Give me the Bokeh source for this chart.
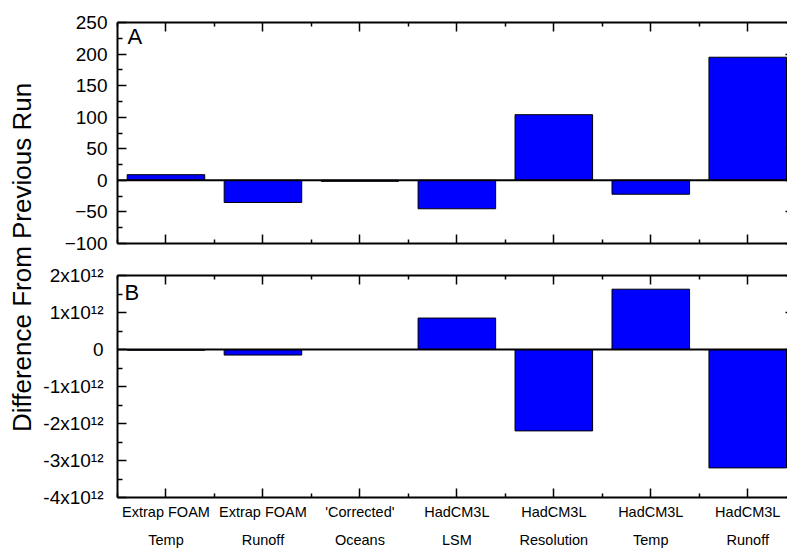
from math import pi

from bokeh.embed import file_html
from bokeh.layouts import column, row
from bokeh.models import (ColumnDataSource, FixedTicker, Label, LinearAxis,
                          Range1d, Span)
from bokeh.plotting import figure
from bokeh.resources import INLINE

# ---------------------------------------------------------------- data
label_line1 = ["Extrap FOAM", "Extrap FOAM", "'Corrected'", "HadCM3L",
               "HadCM3L", "HadCM3L", "HadCM3L"]
label_line2 = ["Temp", "Runoff", "Oceans", "LSM", "Resolution", "Temp", "Runoff"]

panel_a_values = [9, -35, -1.5, -45, 104, -22, 195]
panel_b_values = [-0.02e12, -0.15e12, 0.0, 0.85e12, -2.2e12, 1.63e12, -3.2e12]

panel_a_ticks = [-100, -50, 0, 50, 100, 150, 200, 250]
panel_b_ticks = [-4e12, -3e12, -2e12, -1e12, 0, 1e12, 2e12]
panel_b_tick_labels = ["-4x10¹²", "-3x10¹²", "-2x10¹²", "-1x10¹²", "0",
                       "1x10¹²", "2x10¹²"]

y_title = "Difference From Previous Run"

# ---------------------------------------------------------------- style
FONT = "Liberation Sans"
BAR_BLUE = "#0000ff"
PANEL_W = 747
LEFT = 76
X_START, X_END = 0.5, 7.41
positions = list(range(1, len(label_line1) + 1))


def midpoints(t):
    return [(a + b) / 2 for a, b in zip(t[:-1], t[1:])]


def style_axis(ax, tick_in=9, minor_in=5):
    ax.axis_line_color = "black"
    ax.axis_line_width = 2
    ax.major_tick_line_color = "black"
    ax.minor_tick_line_color = "black"
    ax.major_tick_line_width = 1.5
    ax.minor_tick_line_width = 1.5
    ax.major_tick_in = tick_in
    ax.major_tick_out = 0
    ax.minor_tick_in = minor_in
    ax.minor_tick_out = 0


def hide_labels(ax, ticks):
    ax.major_label_overrides = {t: "" for t in ticks}
    ax.major_label_standoff = 0


def make_panel(values, ticks, height, top, bottom, letter, letter_dx, letter_dy,
               tick_labels=None, standoff=10, x_labels=False):
    p = figure(width=PANEL_W, height=height,
               x_range=Range1d(X_START, X_END),
               y_range=Range1d(ticks[0], ticks[-1]),
               output_backend="svg", toolbar_location=None,
               x_axis_location=None, y_axis_location=None,
               min_border_left=LEFT, min_border_right=0,
               min_border_top=top, min_border_bottom=bottom,
               outline_line_color=None, background_fill_color="white",
               border_fill_color="white")
    p.grid.visible = False

    src = ColumnDataSource(dict(x=positions, top=values))
    p.vbar(x="x", top="top", bottom=0, width=0.8, source=src,
           fill_color=BAR_BLUE, line_color="black", line_width=1)
    p.add_layout(Span(location=0, dimension="width", line_color="black",
                      line_width=2))

    # left / right value axes
    left = LinearAxis(ticker=FixedTicker(ticks=ticks, minor_ticks=midpoints(ticks)))
    style_axis(left)
    if tick_labels is not None:
        left.major_label_overrides = {t: s for t, s in zip(ticks, tick_labels)}
    left.major_label_text_font = FONT
    left.major_label_text_font_size = "19px"
    left.major_label_text_color = "black"
    left.major_label_standoff = standoff
    p.add_layout(left, "left")

    right = LinearAxis(ticker=FixedTicker(ticks=ticks, minor_ticks=[]))
    style_axis(right, tick_in=2, minor_in=0)
    right.axis_line_color = None
    hide_labels(right, ticks)
    p.add_layout(right, "right")

    # top / bottom category axes
    cat_minor = [X_START + i for i in range(len(positions) + 1)]
    above = LinearAxis(ticker=FixedTicker(ticks=positions, minor_ticks=cat_minor))
    style_axis(above, tick_in=9, minor_in=4)
    hide_labels(above, positions)
    p.add_layout(above, "above")

    below = LinearAxis(ticker=FixedTicker(ticks=positions, minor_ticks=cat_minor))
    style_axis(below, tick_in=9, minor_in=4)
    if x_labels:
        below.major_label_overrides = {
            x: f"{a}\n{b}" for x, a, b in zip(positions, label_line1, label_line2)}
        below.major_label_text_font = FONT
        below.major_label_text_font_size = "14.5px"
        below.major_label_text_line_height = 1.8
        below.major_label_text_color = "black"
        below.major_label_standoff = 6
    else:
        hide_labels(below, positions)
    p.add_layout(below, "below")

    p.add_layout(Label(x=X_START, y=ticks[-1], x_offset=letter_dx, y_offset=letter_dy,
                       text=letter, text_align="left", text_baseline="top",
                       text_font=FONT, text_font_size="22px", text_color="black"))
    return p


panel_a = make_panel(panel_a_values, panel_a_ticks, height=259, top=22, bottom=16,
                     letter="A", letter_dx=10, letter_dy=-1)
panel_b = make_panel(panel_b_values, panel_b_ticks, height=292, top=16, bottom=54,
                     letter="B", letter_dx=7, letter_dy=-4,
                     tick_labels=panel_b_tick_labels, standoff=14, x_labels=True)

# shared vertical title
title_fig = figure(width=40, height=551, x_range=Range1d(0, 40), y_range=Range1d(0, 551),
                   output_backend="svg", toolbar_location=None,
                   x_axis_location=None, y_axis_location=None,
                   min_border=0, outline_line_color=None,
                   background_fill_color="white", border_fill_color="white")
title_fig.grid.visible = False
title_fig.add_layout(Label(x=21, y=294, text=y_title, angle=pi / 2,
                           text_align="center", text_baseline="middle",
                           text_font=FONT, text_font_size="26px", text_color="black"))

layout = row(title_fig, column(panel_a, panel_b))

with open("out.html", "w") as f:
    f.write(file_html(layout, INLINE))
